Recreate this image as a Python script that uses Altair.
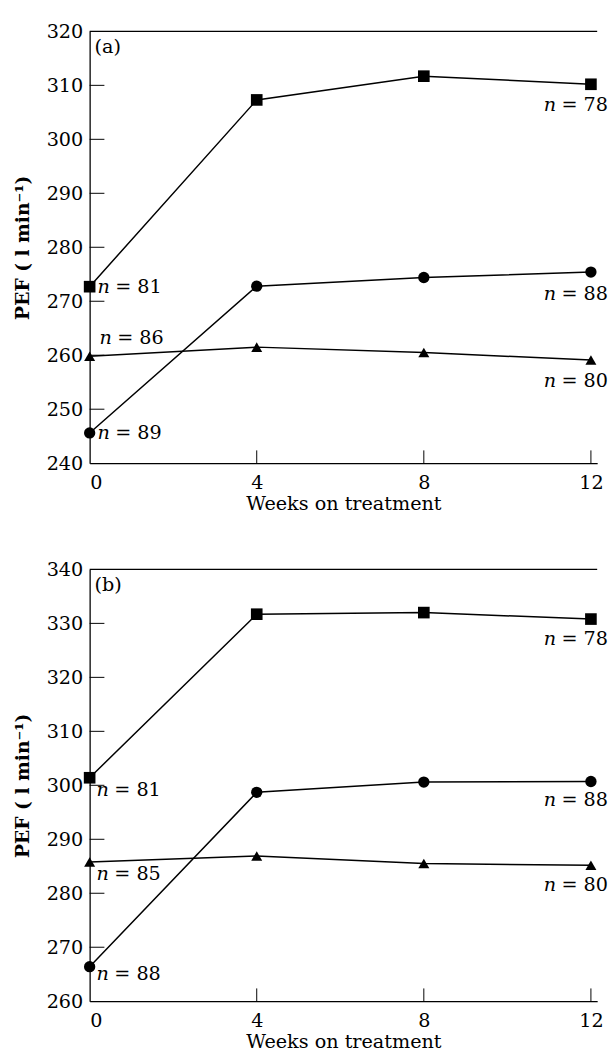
import altair as alt
import pandas as pd

# ---------------- data ----------------
weeks = [0, 4, 8, 12]
series_names = ["square", "circle", "triangle"]

a_square = [272.7, 307.3, 311.7, 310.2]
a_circle = [245.6, 272.8, 274.4, 275.4]
a_triangle = [259.8, 261.5, 260.5, 259.1]
a_n_start = [81, 89, 86]
a_n_end = [78, 88, 80]

b_square = [301.4, 331.7, 332.0, 330.8]
b_circle = [266.4, 298.7, 300.6, 300.7]
b_triangle = [285.8, 286.9, 285.5, 285.2]
b_n_start = [81, 88, 85]
b_n_end = [78, 88, 80]

a_domain = [240, 320]
b_domain = [260, 340]
a_yticks = [240, 250, 260, 270, 280, 290, 300, 310, 320]
b_yticks = [260, 270, 280, 290, 300, 310, 320, 330, 340]
x_ticks = [0, 4, 8, 12]
x_max = 12.15

# ---------------- styles ----------------
FONT = "DejaVu Serif"
FS = 19.5
W, H = 516, 439
# label offsets (pixels) per series: start label, end label
a_offsets = {"start": [(8, 0), (8, 0), (10, -19)], "end": [(-48, 21), (-48, 22), (-48, 21)]}
b_offsets = {"start": [(7, 13), (7, 8), (7, 12)], "end": [(-48, 20), (-48, 19), (-48, 20)]}
shape_range = ["square", "circle", "triangle-up"]
size_range = [140, 125, 130]


def panel(tag, vals, n_start, n_end, domain, yticks, offsets):
    rows = []
    for s, v in zip(series_names, vals):
        for w, y in zip(weeks, v):
            rows.append({"series": s, "week": w, "pef": y})
    df = pd.DataFrame(rows)
    xs = alt.Scale(domain=[0, x_max], nice=False, zero=False)
    ys = alt.Scale(domain=domain, nice=False, zero=False)
    xa = alt.Axis(values=x_ticks, title="Weeks on treatment", ticks=False, tickSize=0,
                  labelPadding=11, titlePadding=3, grid=False, format="d")
    ya = alt.Axis(values=yticks, title="PEF ( l min⁻¹)", ticks=False, tickSize=0,
                  labelPadding=7, grid=False, titleX=-68, titleBaseline="middle",
                  titleFontWeight="bold", titleFontSize=19, format="d")

    def X(f):
        return alt.X(f, scale=xs, axis=xa)

    def Y(f):
        return alt.Y(f, scale=ys, axis=ya)

    lines = alt.Chart(df).mark_line(color="black", strokeWidth=1.5).encode(
        x=X("week:Q"), y=Y("pef:Q"), detail="series:N")
    points = alt.Chart(df).mark_point(filled=True, color="black", opacity=1).encode(
        x=X("week:Q"), y=Y("pef:Q"),
        shape=alt.Shape("series:N", scale=alt.Scale(domain=series_names, range=shape_range), legend=None),
        size=alt.Size("series:N", scale=alt.Scale(domain=series_names, range=size_range), legend=None),
    )
    ytick_df = pd.DataFrame({"pef": yticks[1:-1]})
    yt = alt.Chart(ytick_df).mark_rule(color="black", strokeWidth=1).encode(
        y=Y("pef:Q"), x=alt.value(0), x2=alt.value(15))
    xtick_df = pd.DataFrame({"week": x_ticks[1:]})
    xt = alt.Chart(xtick_df).mark_rule(color="black", strokeWidth=1).encode(
        x=X("week:Q"), y=alt.value(H), y2=alt.value(H - 13))
    top = alt.Chart(pd.DataFrame({"pef": [domain[1]]})).mark_rule(color="black", strokeWidth=1.3).encode(
        y=Y("pef:Q"))
    tag_layer = alt.Chart(pd.DataFrame({"week": [0], "pef": [domain[1]], "t": [tag]})).mark_text(
        align="left", baseline="middle", dx=5, dy=16, fontSize=FS, font=FONT, color="black").encode(
        x=X("week:Q"), y=Y("pef:Q"), text="t:N")

    layers = [lines, points, yt, xt, top, tag_layer]
    for i, v in enumerate(vals):
        for which, idx, nval in (("start", 0, n_start[i]), ("end", 3, n_end[i])):
            dx, dy = offsets[which][i]
            ldf = pd.DataFrame({"week": [weeks[idx]], "pef": [v[idx]],
                                "n": ["n"], "rest": [f"= {nval}"]})
            base = alt.Chart(ldf)
            layers.append(base.mark_text(align="left", baseline="middle", dx=dx, dy=dy,
                                         fontSize=FS, font=FONT, fontStyle="italic",
                                         color="black").encode(
                x=X("week:Q"), y=Y("pef:Q"), text="n:N"))
            layers.append(base.mark_text(align="left", baseline="middle", dx=dx + 18, dy=dy,
                                         fontSize=FS, font=FONT, color="black").encode(
                x=X("week:Q"), y=Y("pef:Q"), text="rest:N"))
    return alt.layer(*layers).properties(width=W, height=H)


pa = panel("(a)", [a_square, a_circle, a_triangle], a_n_start, a_n_end, a_domain, a_yticks, a_offsets)
pb = panel("(b)", [b_square, b_circle, b_triangle], b_n_start, b_n_end, b_domain, b_yticks, b_offsets)

chart = alt.vconcat(pa, pb, spacing=108, bounds="flush").properties(
    padding={"left": 6, "top": 5, "right": 0, "bottom": 0},
).configure_view(stroke=None).configure_axis(
    domainColor="black", domainWidth=1.3, labelColor="black", titleColor="black",
    labelFont=FONT, titleFont=FONT, labelFontSize=FS, titleFontSize=FS, titleFontWeight="normal",
).configure_text(font=FONT)

chart.save("out.html", embed_options={"renderer": "svg", "actions": False})
